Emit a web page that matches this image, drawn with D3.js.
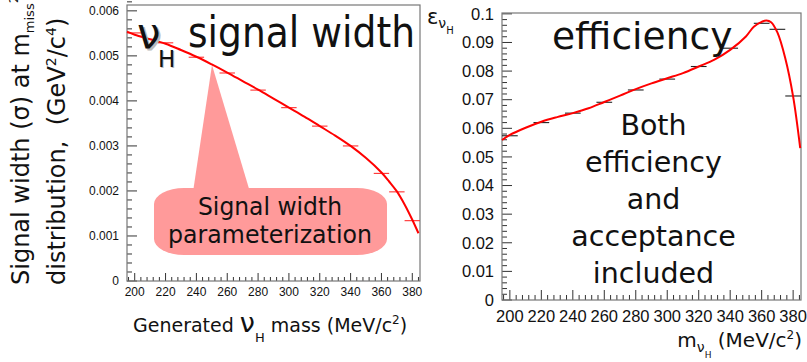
<!DOCTYPE html>
<html lang="en">
<head>
<meta charset="UTF-8">
<title>nu_H signal width and efficiency</title>
<style>
    body { margin: 0; padding: 0; background: #fff; }
    svg { display: block; }
    .tick-label { font-family: "Liberation Sans", Arial, sans-serif; fill: #111; }
    .slide { font-family: "DejaVu Sans", sans-serif; fill: #111; white-space: pre; }
</style>
</head>
<body>
<script src="https://d3js.org/d3.v7.min.js"></script>
<script>
// generated masses (MeV/c^2) of the points in both panels
const massPoints = [200, 220, 240, 260, 280, 300, 320, 340, 360, 370, 380];
const binHalf = 5;

// left panel: signal width sigma (GeV^2/c^4)
const widthValues = [0.00551, 0.00529, 0.00497, 0.00462, 0.00424, 0.00385, 0.00344, 0.00300, 0.00239, 0.00198, 0.00134];
// parameterization curve
const widthFitMass = [195, 200, 210, 220, 230, 240, 250, 260, 270, 280, 290, 300, 310, 320, 330, 340, 350, 360, 365, 370, 375, 380, 384];
const widthFitValues = [0.00554, 0.00547, 0.00537, 0.00527, 0.00513, 0.00498, 0.00481, 0.00463, 0.00444, 0.00425, 0.00405, 0.00385,
    0.00365, 0.00344, 0.00323, 0.00300, 0.00273, 0.00241, 0.00221, 0.00199, 0.00170, 0.00136, 0.00106];

// right panel: efficiency x acceptance
const effValues = [0.0574, 0.0620, 0.0653, 0.0691, 0.0734, 0.0772, 0.0816, 0.0880, 0.0967, 0.0946, 0.0713];
const effFitMass = [195, 200, 210, 220, 230, 240, 250, 260, 270, 280, 290, 300, 310, 320, 330, 340, 350, 355, 360, 363, 366, 370, 375, 380, 384.5];
const effFitValues = [0.0559, 0.0577, 0.0602, 0.0623, 0.0639, 0.0653, 0.0670, 0.0692, 0.0714, 0.0737, 0.0757, 0.0775,
    0.0793, 0.0816, 0.0840, 0.0874, 0.0921, 0.0955, 0.0972, 0.0977, 0.0971, 0.0935, 0.0845, 0.0711, 0.0531];

// axis ticks
const massTicks = [200, 220, 240, 260, 280, 300, 320, 340, 360, 380];
const widthTicks = [0, 0.001, 0.002, 0.003, 0.004, 0.005, 0.006];
const widthTickLabels = ["0", "0.001", "0.002", "0.003", "0.004", "0.005", "0.006"];
const effTicks = [0, 0.01, 0.02, 0.03, 0.04, 0.05, 0.06, 0.07, 0.08, 0.09, 0.1];
const effTickLabels = ["0", "0.01", "0.02", "0.03", "0.04", "0.05", "0.06", "0.07", "0.08", "0.09", "0.1"];

const W = 807, H = 362;
const svg = d3.select("body").append("svg").attr("width", W).attr("height", H);

// draws a ROOT style frame with inward ticks on left and bottom
function drawFrame(x, y, opts) {
    const g = svg.append("g");
    const [x0, x1] = x.range();
    const [y0, y1] = y.range();

    // minor + major ticks on x
    const xStep = (massTicks[1] - massTicks[0]) / 5;
    for (let m = x.domain()[0]; m <= x.domain()[1]; m += 1) {
        if ((m - massTicks[0]) % xStep !== 0) continue;
        const major = (m - massTicks[0]) % (massTicks[1] - massTicks[0]) === 0;
        g.append("line")
            .attr("x1", x(m)).attr("x2", x(m))
            .attr("y1", y0).attr("y2", y0 - (major ? opts.xMajor : opts.xMinor))
            .attr("stroke", "#333").attr("stroke-width", 1);
    }
    // minor + major ticks on y
    const yMajor = opts.yTicks[1] - opts.yTicks[0];
    const nMinor = Math.round((y.domain()[1] - y.domain()[0]) / (yMajor / 5));
    for (let i = 0; i <= nMinor; i++) {
        const v = i * yMajor / 5;
        const major = i % 5 === 0;
        g.append("line")
            .attr("x1", x0).attr("x2", x0 + (major ? opts.yMajorLen : opts.yMinorLen))
            .attr("y1", y(v)).attr("y2", y(v))
            .attr("stroke", "#333").attr("stroke-width", 1);
    }

    g.append("rect")
        .attr("x", x0).attr("y", y1)
        .attr("width", x1 - x0).attr("height", y0 - y1)
        .attr("fill", "none").attr("stroke", "#777").attr("stroke-width", 1.2);

    // tick labels
    g.selectAll(".xl").data(massTicks).enter().append("text")
        .attr("class", "tick-label")
        .attr("x", d => x(d)).attr("y", opts.xLabelY)
        .attr("text-anchor", "middle")
        .style("font-size", opts.fontSize + "px")
        .text(d => d);
    g.selectAll(".yl").data(opts.yTicks).enter().append("text")
        .attr("class", "tick-label")
        .attr("x", opts.yLabelX).attr("y", d => y(d))
        .attr("dy", "0.35em")
        .attr("text-anchor", "end")
        .style("font-size", opts.fontSize + "px")
        .text((d, i) => opts.yLabels[i]);
    return g;
}

function drawPoints(x, y, values, color) {
    svg.append("g").selectAll("line").data(massPoints).enter().append("line")
        .attr("x1", d => x(d - binHalf)).attr("x2", d => x(d + binHalf))
        .attr("y1", (d, i) => y(values[i])).attr("y2", (d, i) => y(values[i]))
        .attr("stroke", color).attr("stroke-width", 1.1);
}

function drawCurve(x, y, xs, ys) {
    const line = d3.line()
        .x(d => x(d[0])).y(d => y(d[1]))
        .curve(d3.curveCatmullRom.alpha(0.5));
    svg.append("path")
        .datum(xs.map((m, i) => [m, ys[i]]))
        .attr("d", line)
        .attr("fill", "none").attr("stroke", "#f00").attr("stroke-width", 2);
}

// ---------- left panel ----------
const xL = d3.scaleLinear().domain([195, 385]).range([127, 420]);
const yL = d3.scaleLinear().domain([0, 0.00613]).range([281, 5]);

// callout behind everything
const callout = svg.append("g").attr("fill", "#ff9a9a");
callout.append("path").attr("d", "M212,65 L193,192 L250,192 Z");
callout.append("rect").attr("x", 154).attr("y", 188).attr("width", 233).attr("height", 67)
    .attr("rx", 30).attr("ry", 16);

drawFrame(xL, yL, {
    yTicks: widthTicks, yLabels: widthTickLabels,
    fontSize: 12, xLabelY: 296, yLabelX: 119,
    xMajor: 8, xMinor: 4, yMajorLen: 10, yMinorLen: 5
});
drawPoints(xL, yL, widthValues, "#ff3030");
drawCurve(xL, yL, widthFitMass, widthFitValues);

// left big title with shaded nu
svg.append("text").attr("class", "slide").attr("x", 139).attr("y", 50)
    .style("font-size", "42px").style("fill", "#bbb").text("ν");
svg.append("text").attr("class", "slide").attr("x", 137).attr("y", 48)
    .style("font-size", "42px").text("ν");
svg.append("text").attr("class", "slide").attr("x", 159).attr("y", 68)
    .style("font-size", "23px").style("fill", "#bbb").text("H");
svg.append("text").attr("class", "slide").attr("x", 158).attr("y", 67)
    .style("font-size", "23px").text("H");
svg.append("text").attr("class", "slide").attr("x", 188).attr("y", 47)
    .style("font-size", "42px")
    .attr("textLength", 227).attr("lengthAdjust", "spacingAndGlyphs")
    .text("signal width");

svg.append("text").attr("class", "slide").attr("x", 270).attr("y", 215)
    .attr("text-anchor", "middle").style("font-size", "25px")
    .attr("textLength", 144).attr("lengthAdjust", "spacingAndGlyphs")
    .text("Signal width");
svg.append("text").attr("class", "slide").attr("x", 270).attr("y", 243)
    .attr("text-anchor", "middle").style("font-size", "25px")
    .attr("textLength", 204).attr("lengthAdjust", "spacingAndGlyphs")
    .text("parameterization");

// left y axis title (two rotated lines)
const yt1 = svg.append("text").attr("class", "slide")
    .attr("transform", "translate(29,285) rotate(-90)").style("font-size", "24px");
yt1.append("tspan").text("Signal width (σ) at m");
yt1.append("tspan").attr("dy", 5).style("font-size", "13px").text("miss");
yt1.append("tspan").attr("dy", -16).style("font-size", "13px").text("2");

const yt2 = svg.append("text").attr("class", "slide")
    .attr("transform", "translate(65,285) rotate(-90)").style("font-size", "24px");
yt2.append("tspan").text("distribution,  (GeV");
yt2.append("tspan").attr("dy", -9).style("font-size", "14px").text("2");
yt2.append("tspan").attr("dy", 9).text("/c");
yt2.append("tspan").attr("dy", -9).style("font-size", "14px").text("4");
yt2.append("tspan").attr("dy", 9).text(")");

// left x axis title
const xt1 = svg.append("text").attr("class", "slide").attr("x", 133).attr("y", 332)
    .style("font-size", "19px");
xt1.append("tspan").text("Generated ");
xt1.append("tspan").style("font-size", "27px").text("ν");
xt1.append("tspan").attr("dy", 10).style("font-size", "13px").text("H");
xt1.append("tspan").attr("dy", -10).text(" mass (MeV/c");
xt1.append("tspan").attr("dy", -8).style("font-size", "12px").text("2");
xt1.append("tspan").attr("dy", 8).text(")");

// ---------- right panel ----------
const xR = d3.scaleLinear().domain([195, 385]).range([502, 801]);
const yR = d3.scaleLinear().domain([0, 0.1003]).range([300, 13]);

drawFrame(xR, yR, {
    yTicks: effTicks, yLabels: effTickLabels,
    fontSize: 16.5, xLabelY: 322, yLabelX: 494,
    xMajor: 10, xMinor: 5, yMajorLen: 10, yMinorLen: 5
});
drawPoints(xR, yR, effValues, "#222");
drawCurve(xR, yR, effFitMass, effFitValues);

svg.append("text").attr("class", "slide").attr("x", 552).attr("y", 49)
    .style("font-size", "37.6px").text("efficiency");

const noteLines = ["Both", "efficiency", "and", "acceptance", "included"];
svg.append("g").selectAll("text").data(noteLines).enter().append("text")
    .attr("class", "slide")
    .attr("x", 653.5).attr("y", (d, i) => 135 + i * 37)
    .attr("text-anchor", "middle").style("font-size", "28.5px")
    .text(d => d);

// right y axis title  epsilon_{nu_H}
const et = svg.append("text").attr("class", "slide").attr("x", 427).attr("y", 24)
    .style("font-size", "21px");
et.append("tspan").text("ε");
et.append("tspan").attr("dy", 4).style("font-size", "14px").text("ν");
et.append("tspan").attr("dy", 6).style("font-size", "10px").text("H");

// right x axis title  m_{nu_H} (MeV/c^2)
const mt = svg.append("text").attr("class", "slide").attr("x", 802).attr("y", 347)
    .attr("text-anchor", "end").style("font-size", "20px");
mt.append("tspan").text("m");
mt.append("tspan").attr("dy", 5).style("font-size", "14px").text("ν");
mt.append("tspan").attr("dy", 6).style("font-size", "9px").text("H");
mt.append("tspan").attr("dy", -11).text(" (MeV/c");
mt.append("tspan").attr("dy", -8).style("font-size", "12px").text("2");
mt.append("tspan").attr("dy", 8).text(")");
</script>
</body>
</html>
